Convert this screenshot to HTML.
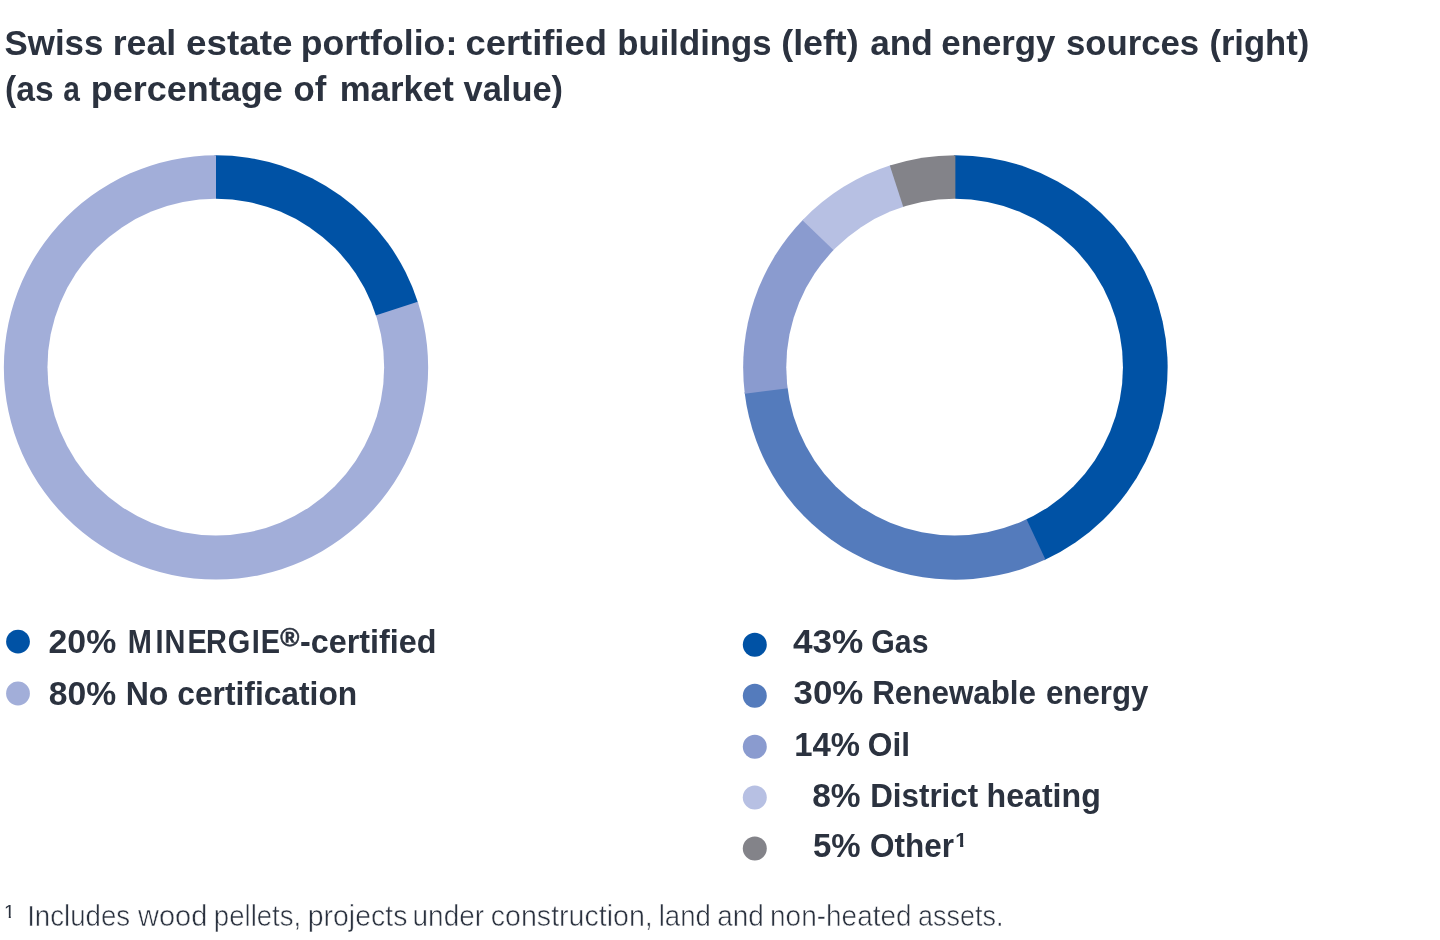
<!DOCTYPE html>
<html lang="en"><head><meta charset="utf-8"><title>Swiss real estate portfolio</title>
<style>
html,body{margin:0;padding:0;background:#fff;}
body{width:1440px;height:940px;overflow:hidden;position:relative;font-family:"Liberation Sans",sans-serif;color:#2b323f;}
svg{position:absolute;left:0;top:0;display:block}
text{font-family:"Liberation Sans",sans-serif;fill:#2b323f;}
.t{font-weight:bold;font-size:35.5px;}
.l{font-weight:bold;font-size:32.5px;}
.f{font-size:28.6px;stroke:#fff;stroke-width:0.55px;paint-order:fill stroke}
</style></head><body>
<svg width="1440" height="940" viewBox="0 0 1440 940">
<path d="M216.0 367.4L214.52 155.26A212.15 212.15 0 0 1 418.22 303.25Z" fill="#0052a5"/>
<path d="M216.0 367.4L417.77 301.84A212.15 212.15 0 1 1 216.00 155.25Z" fill="#a2aed9"/>
<circle cx="215.8" cy="367.15" r="168.35" fill="#fff"/>
<path d="M955.4 367.4L953.92 155.16A212.25 212.25 0 0 1 1044.09 560.23Z" fill="#0052a5"/>
<path d="M955.4 367.4L1045.44 559.61A212.25 212.25 0 0 1 744.60 392.16Z" fill="#547bbc"/>
<path d="M955.4 367.4L744.78 393.63A212.25 212.25 0 0 1 803.49 219.16Z" fill="#8a9bcf"/>
<path d="M955.4 367.4L802.46 220.23A212.25 212.25 0 0 1 891.22 165.09Z" fill="#b7c0e3"/>
<path d="M955.4 367.4L889.81 165.54A212.25 212.25 0 0 1 955.40 155.15Z" fill="#838389"/>
<circle cx="954.6" cy="367.15" r="168.35" fill="#fff"/>
<circle cx="18" cy="641.6" r="11.9" fill="#0052a5"/>
<circle cx="18" cy="693.5" r="11.9" fill="#a2aed9"/>
<circle cx="754.8" cy="644.8" r="12" fill="#0052a5"/>
<circle cx="754.8" cy="695.8" r="12" fill="#547bbc"/>
<circle cx="754.8" cy="746.7" r="12" fill="#8a9bcf"/>
<circle cx="754.8" cy="797.4" r="12" fill="#b7c0e3"/>
<circle cx="754.8" cy="848.5" r="12" fill="#838389"/>
<text class="t"><tspan x="4.52" y="55" textLength="98.86" lengthAdjust="spacingAndGlyphs">Swiss</tspan> <tspan x="112.74" y="55" textLength="63.44" lengthAdjust="spacingAndGlyphs">real</tspan> <tspan x="185.94" y="55" textLength="106.47" lengthAdjust="spacingAndGlyphs">estate</tspan> <tspan x="300.74" y="55" textLength="156.53" lengthAdjust="spacingAndGlyphs">portfolio:</tspan> <tspan x="465.46" y="55" textLength="141.45" lengthAdjust="spacingAndGlyphs">certified</tspan> <tspan x="617.30" y="55" textLength="154.18" lengthAdjust="spacingAndGlyphs">buildings</tspan> <tspan x="781.24" y="55" textLength="77.43" lengthAdjust="spacingAndGlyphs">(left)</tspan> <tspan x="870.26" y="55" textLength="62.60" lengthAdjust="spacingAndGlyphs">and</tspan> <tspan x="941.33" y="55" textLength="114.14" lengthAdjust="spacingAndGlyphs">energy</tspan> <tspan x="1065.98" y="55" textLength="133.21" lengthAdjust="spacingAndGlyphs">sources</tspan> <tspan x="1209.39" y="55" textLength="99.93" lengthAdjust="spacingAndGlyphs">(right)</tspan></text>
<text class="t"><tspan x="5.04" y="101" textLength="48.53" lengthAdjust="spacingAndGlyphs">(as</tspan> <tspan x="63.36" y="101" textLength="16.63" lengthAdjust="spacingAndGlyphs">a</tspan> <tspan x="90.82" y="101" textLength="192.07" lengthAdjust="spacingAndGlyphs">percentage</tspan> <tspan x="293.54" y="101" textLength="32.73" lengthAdjust="spacingAndGlyphs">of</tspan> <tspan x="339.70" y="101" textLength="114.03" lengthAdjust="spacingAndGlyphs">market</tspan> <tspan x="463.51" y="101" textLength="99.55" lengthAdjust="spacingAndGlyphs">value)</tspan></text>
<text class="l"><tspan x="48.56" y="653" textLength="67.65" lengthAdjust="spacingAndGlyphs" font-size="34.0">20%</tspan></text>
<text class="l" transform="scale(0.89 1)" x="143.52 174.60 184.88 210.55 231.55 255.95 282.92 292.86" y="653" font-size="34.0">MINERGIE</text>
<text class="l"><tspan x="280.33" y="646" textLength="19.14" lengthAdjust="spacingAndGlyphs" font-size="25.2" stroke="#2b323f" stroke-width="0.5">®</tspan><tspan x="300.06" y="653" textLength="136.50" lengthAdjust="spacingAndGlyphs">-certified</tspan></text>
<text class="l"><tspan x="48.81" y="705" textLength="67.39" lengthAdjust="spacingAndGlyphs" font-size="34.0">80%</tspan> <tspan x="125.68" y="705" textLength="42.73" lengthAdjust="spacingAndGlyphs">No</tspan> <tspan x="177.28" y="705" textLength="179.94" lengthAdjust="spacingAndGlyphs">certification</tspan></text>
<text class="l"><tspan x="792.98" y="653" textLength="70.36" lengthAdjust="spacingAndGlyphs" font-size="34.0">43%</tspan> <tspan x="871.34" y="653" textLength="57.20" lengthAdjust="spacingAndGlyphs">Gas</tspan></text>
<text class="l"><tspan x="793.63" y="704" textLength="69.70" lengthAdjust="spacingAndGlyphs" font-size="34.0">30%</tspan> <tspan x="872.23" y="704" textLength="163.78" lengthAdjust="spacingAndGlyphs">Renewable</tspan> <tspan x="1046.00" y="704" textLength="102.31" lengthAdjust="spacingAndGlyphs">energy</tspan></text>
<text class="l"><tspan x="794.23" y="756" textLength="65.76" lengthAdjust="spacingAndGlyphs" font-size="34.0">14%</tspan> <tspan x="867.78" y="756" textLength="42.20" lengthAdjust="spacingAndGlyphs">Oil</tspan></text>
<text class="l"><tspan x="812.22" y="807" textLength="48.36" lengthAdjust="spacingAndGlyphs" font-size="34.0">8%</tspan> <tspan x="870.23" y="807" textLength="107.94" lengthAdjust="spacingAndGlyphs">District</tspan> <tspan x="986.53" y="807" textLength="114.26" lengthAdjust="spacingAndGlyphs">heating</tspan></text>
<text class="l"><tspan x="813.03" y="857" textLength="47.63" lengthAdjust="spacingAndGlyphs" font-size="34.0">5%</tspan> <tspan x="870.09" y="857" textLength="83.93" lengthAdjust="spacingAndGlyphs">Other</tspan><tspan x="955.35" y="847" textLength="11.78" lengthAdjust="spacingAndGlyphs" font-size="19.8">1</tspan></text>
<text class="f"><tspan x="4.14" y="918" textLength="10.73" lengthAdjust="spacingAndGlyphs" font-size="17.6" stroke="none">1</tspan> <tspan x="27.14" y="926" textLength="103.09" lengthAdjust="spacingAndGlyphs">Includes</tspan> <tspan x="138.00" y="926" textLength="69.39" lengthAdjust="spacingAndGlyphs">wood</tspan> <tspan x="213.81" y="926" textLength="87.46" lengthAdjust="spacingAndGlyphs">pellets,</tspan> <tspan x="307.76" y="926" textLength="99.61" lengthAdjust="spacingAndGlyphs">projects</tspan> <tspan x="412.54" y="926" textLength="71.60" lengthAdjust="spacingAndGlyphs">under</tspan> <tspan x="490.75" y="926" textLength="162.07" lengthAdjust="spacingAndGlyphs">construction,</tspan> <tspan x="658.67" y="926" textLength="52.18" lengthAdjust="spacingAndGlyphs">land</tspan> <tspan x="717.18" y="926" textLength="46.65" lengthAdjust="spacingAndGlyphs">and</tspan> <tspan x="770.04" y="926" textLength="141.55" lengthAdjust="spacingAndGlyphs">non-heated</tspan> <tspan x="918.02" y="926" textLength="85.42" lengthAdjust="spacingAndGlyphs">assets.</tspan></text>
<rect x="954.35" y="843.88" width="5.69" height="4.12" fill="#fff"/>
<rect x="963.30" y="843.88" width="4.93" height="4.12" fill="#fff"/>
<rect x="3.14" y="915.59" width="5.60" height="3.41" fill="#fff"/>
<rect x="10.80" y="915.59" width="5.17" height="3.41" fill="#fff"/>
</svg>
</body></html>
